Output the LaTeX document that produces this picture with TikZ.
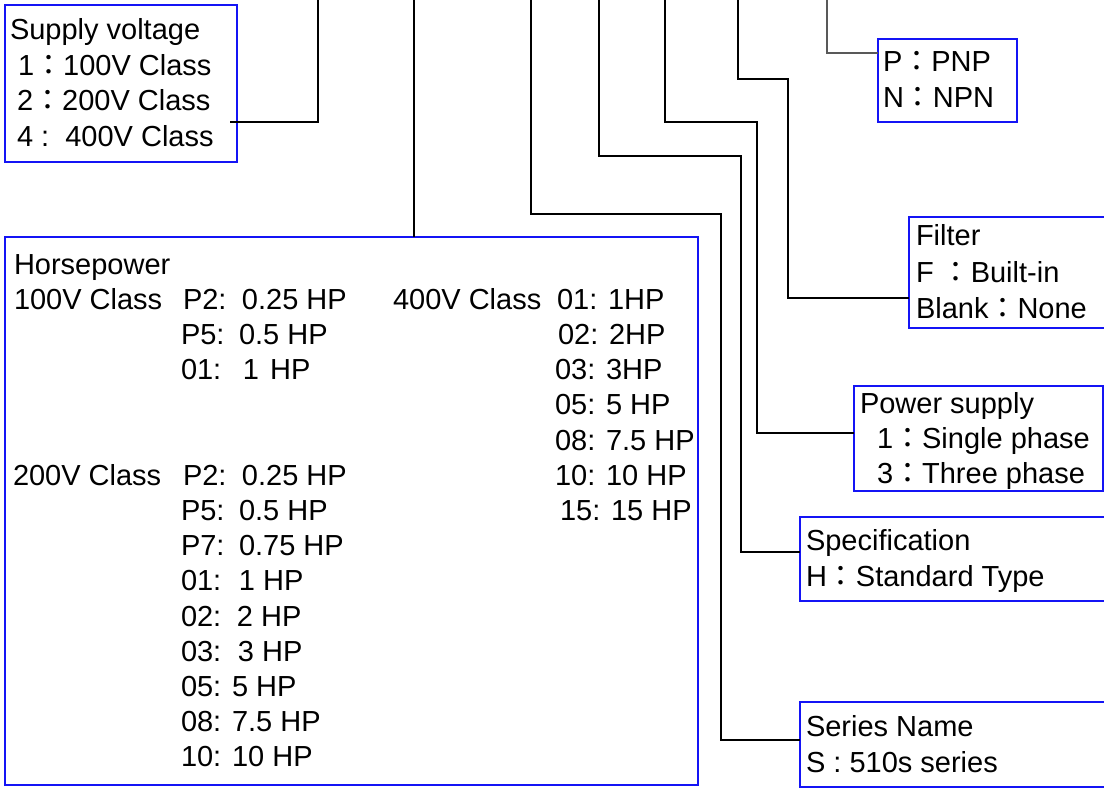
\documentclass[tikz,border=0pt]{standalone}
\usepackage{fontspec}
\setmainfont{Liberation Sans}
\newfontfamily\cjk{Noto Sans CJK TC}
\newcommand\fw{{\cjk ：}}
\usetikzlibrary{calc}
\definecolor{boxblue}{RGB}{20,20,245}
\tikzset{
  box/.style={draw=boxblue, line width=1.7pt, rectangle, anchor=north west, inner sep=0pt, outer sep=0pt},
  txt/.style={anchor=base west, inner sep=0pt, outer sep=0pt, font=\fontsize{29}{35}\selectfont},
  conn/.style={draw=black, line width=1.5pt},
  connlight/.style={draw=black!65, line width=1.3pt}
}
\newcommand\hpr[6]{\node[txt] (#6) at (#1,#3) {\makebox[\dimexpr #2pt-#1pt\relax][l]{#4}#5};}
\begin{document}
\begin{tikzpicture}[x=1pt,y=-1pt]
\useasboundingbox (0,0) rectangle (1104,798);
\clip (0,0) rectangle (1104,798);
\fill[white] (0,0) rectangle (1104,798);

% top coordinates
\coordinate (tsv) at (318,0);
\coordinate (thp) at (414,0);
\coordinate (t1) at (531,0);
\coordinate (t2) at (599,0);
\coordinate (t3) at (665,0);
\coordinate (t4) at (738,0);
\coordinate (t5) at (827,0);

% boxes
\node[box, minimum width=232pt, minimum height=157pt] (sv) at (5,5) {};
\node[box, minimum width=693pt, minimum height=548pt] (hp) at (5,237) {};
\node[box, minimum width=139pt, minimum height=83pt] (pn) at (878,39) {};
\node[box, minimum width=215pt, minimum height=111pt] (fi) at (909,217) {};
\node[box, minimum width=249pt, minimum height=105pt] (ps) at (854,386) {};
\node[box, minimum width=320pt, minimum height=84pt] (sp) at (800,517) {};
\node[box, minimum width=320pt, minimum height=85pt] (sn) at (800,702) {};

% connectors
\draw[conn] ($(sv.east |- 0,122)+(-7,0)$) -| (tsv);
\draw[conn] (thp) -- (hp.north -| thp);
\draw[conn] (t1) |- (721,214) |- (sn.west |- 0,740);
\draw[conn] (t2) |- (741,156) |- (sp.west |- 0,552);
\draw[conn] (t3) |- (757,122) |- (ps.west |- 0,433);
\draw[conn] (t4) |- (788,79) |- (fi.west |- 0,298);
\draw[connlight] (t5) |- (pn.west |- 0,53);

% supply voltage
\node[txt] (sv0) at (10,39) {Supply voltage};
\node[txt] (sv1) at (18,75) {1\fw100V Class};
\node[txt] (sv2) at (17,110) {2\fw200V Class};
\node[txt] (sv3) at (17,146) {4 :\ \ 400V Class};

% PNP/NPN
\node[txt] (pn1) at (883,71) {P\fw PNP};
\node[txt] (pn2) at (883,107) {N\fw NPN};

% filter
\node[txt] (fi0) at (916,245) {Filter};
\node[txt] (fi1) at (916,282) {F \fw Built-in};
\node[txt] (fi2) at (916,318) {Blank\fw None};

% power supply
\node[txt] (ps0) at (860,413) {Power supply};
\node[txt] (ps1) at (877,448) {1\fw Single phase};
\node[txt] (ps2) at (877,483) {3\fw Three phase};

% specification
\node[txt] (sp0) at (806,550) {Specification};
\node[txt] (sp1) at (806,586) {H\fw Standard Type};

% series name
\node[txt] (sn0) at (806,736) {Series Name};
\node[txt] (sn1) at (806,772) {S : 510s series};

% horsepower
\node[txt] (h0) at (14,274) {Horsepower};
\node[txt] (c100) at (14,309.2) {100V Class};
\hpr{183}{242}{309.2}{P2:}{0.25 HP}{a1}
\hpr{181}{239}{344.4}{P5:}{0.5 HP}{a2}
\hpr{181}{243}{379.6}{01:}{1\hspace{11pt}HP}{a3}
\node[txt] (c200) at (13,485.2) {200V Class};
\hpr{183}{242}{485.2}{P2:}{0.25 HP}{b1}
\hpr{181}{239}{520.4}{P5:}{0.5 HP}{b2}
\hpr{181}{239}{555.6}{P7:}{0.75 HP}{b3}
\hpr{181}{239}{590.8}{01:}{1 HP}{b4}
\hpr{181}{237}{626}{02:}{2 HP}{b5}
\hpr{181}{238}{661.2}{03:}{3 HP}{b6}
\node[txt] (b7) at (181,696.4) {05: 5 HP};
\node[txt] (b8) at (181,731.6) {08: 7.5 HP};
\node[txt] (b9) at (181,766.8) {10: 10 HP};
\node[txt] (c400) at (393,309.2) {400V Class};
\node[txt] (d1) at (557,309.2) {01: 1HP};
\node[txt] (d2) at (558,344.4) {02: 2HP};
\node[txt] (d3) at (555,379.6) {03: 3HP};
\node[txt] (d4) at (555,414.8) {05: 5 HP};
\node[txt] (d5) at (555,450) {08: 7.5 HP};
\node[txt] (d6) at (555,485.2) {10: 10 HP};
\node[txt] (d7) at (560,520.4) {15: 15 HP};
\end{tikzpicture}
\end{document}
